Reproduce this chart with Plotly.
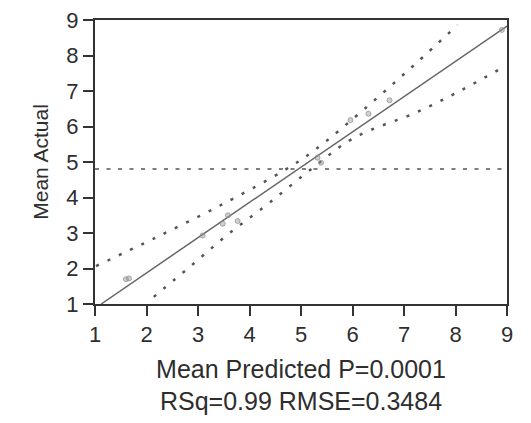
import plotly.graph_objects as go

# Data
pred_x = [1.60, 1.66, 3.09, 3.48, 3.58, 3.77, 5.32, 5.39, 5.96, 6.31, 6.72, 8.90]
actual_y = [1.70, 1.72, 2.93, 3.26, 3.50, 3.34, 5.12, 4.98, 6.18, 6.36, 6.74, 8.72]

fit_x = [1.12, 9.0]
fit_y = [1.0, 8.83]

upper_x = [1.02, 2.15, 3.45, 4.68, 5.27, 6.30, 7.21, 8.04]
upper_y = [2.07, 2.85, 3.79, 4.77, 5.34, 6.58, 7.75, 8.86]

lower_x = [2.14, 2.86, 3.58, 4.35, 5.19, 6.03, 7.26, 8.11, 8.94]
lower_y = [1.20, 2.07, 2.96, 3.81, 4.79, 5.68, 6.41, 7.02, 7.68]

mean_y = 4.80
x_range = [1, 9]
y_range = [1, 9]
tick_vals = [1, 2, 3, 4, 5, 6, 7, 8, 9]
tick_text = ["1", "2", "3", "4", "5", "6", "7", "8", "9"]

x_title = "Mean Predicted P=0.0001<br>RSq=0.99 RMSE=0.3484"
y_title = "Mean Actual"

FONT = "Liberation Sans, Arial, sans-serif"
TXT = "#2e2e2e"

fig = go.Figure()

fig.add_trace(go.Scatter(
    x=x_range, y=[mean_y, mean_y], mode="lines",
    line=dict(color="#555555", width=1.5, dash="4px,7.5px"),
    hoverinfo="skip", showlegend=False))

fig.add_trace(go.Scatter(
    x=upper_x, y=upper_y, mode="lines", line_shape="spline",
    line=dict(color="#555555", width=2.5, dash="3px,9.5px"),
    showlegend=False))

fig.add_trace(go.Scatter(
    x=lower_x, y=lower_y, mode="lines", line_shape="spline",
    line=dict(color="#555555", width=2.5, dash="3px,9.5px"),
    showlegend=False))

fig.add_trace(go.Scatter(
    x=fit_x, y=fit_y, mode="lines",
    line=dict(color="#666666", width=1.5),
    showlegend=False))

fig.add_trace(go.Scatter(
    x=pred_x, y=actual_y, mode="markers",
    marker=dict(size=5, color="rgba(150,150,150,0.45)",
                line=dict(color="rgba(140,140,140,0.7)", width=1)),
    showlegend=False))

axis_common = dict(
    showgrid=False, zeroline=False, automargin=False,
    showline=True, linecolor="#333333", linewidth=2, mirror=True,
    ticks="outside", ticklen=10, tickwidth=2, tickcolor="#333333",
    tickmode="array", tickvals=tick_vals, ticktext=tick_text,
    ticklabeloverflow="allow", tickangle=0,
    tickfont=dict(family=FONT, size=22, color=TXT),
)

# page body has an 8px margin, so margins are reduced on left/top to compensate
fig.update_layout(
    width=531, height=423,
    margin=dict(l=87, r=32, t=12, b=127),
    paper_bgcolor="white", plot_bgcolor="white",
    font=dict(family=FONT, color=TXT),
    hovermode=False,
    xaxis=dict(range=x_range, **axis_common,
               title=dict(text=x_title, font=dict(family=FONT, size=25, color=TXT), standoff=14)),
    yaxis=dict(range=y_range, **axis_common,
               title=dict(text=y_title, font=dict(family=FONT, size=21, color=TXT), standoff=12)),
)

fig.write_html("out.html", config={"displayModeBar": False, "staticPlot": True})
